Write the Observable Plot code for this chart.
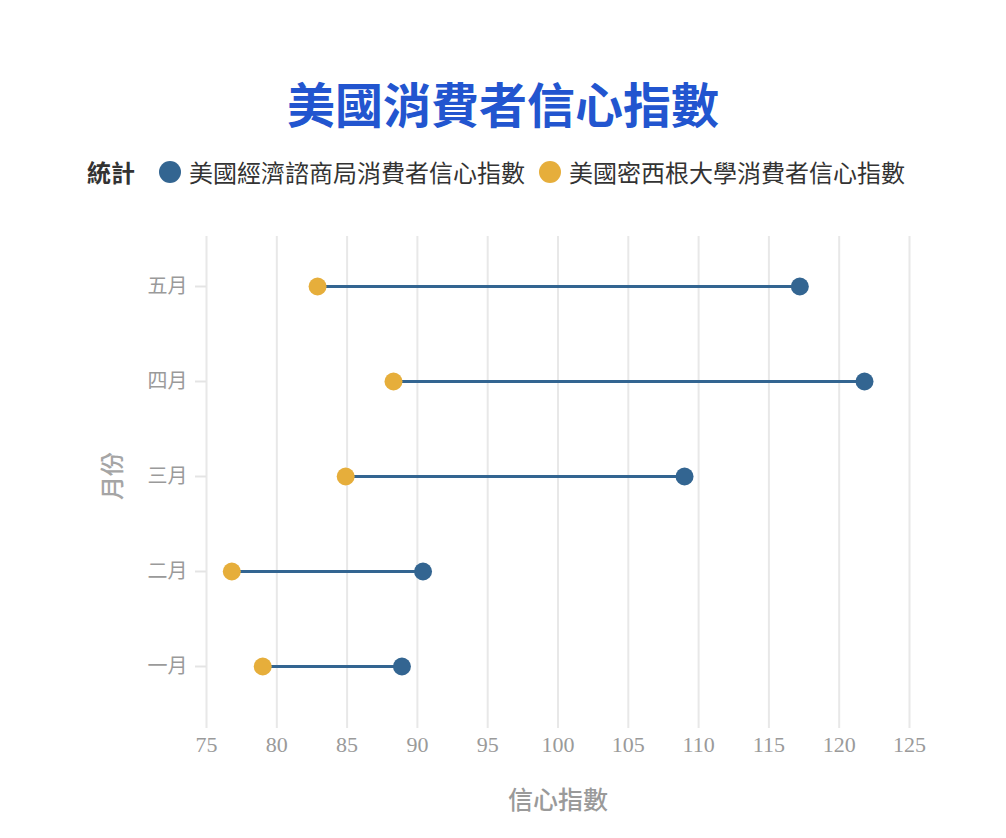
<!DOCTYPE html>
<html>
<head>
<meta charset="utf-8">
<script src="https://cdn.jsdelivr.net/npm/d3@7"></script>
<script src="https://cdn.jsdelivr.net/npm/@observablehq/plot@0.6"></script>
<style>
  html, body { margin: 0; padding: 0; background: #ffffff; }
  body { width: 1006px; height: 838px; position: relative; overflow: hidden; font-family: "Noto Sans CJK TC", "Noto Sans", sans-serif; }
  #title { position: absolute; left: 0; width: 1006px; top: 78px; text-align: center; font-size: 48px; line-height: 48px; font-weight: 700; color: #2255cf; }
  #legend { position: absolute; left: 0; width: 1006px; top: 158px; display: flex; justify-content: center; align-items: center; font-size: 24px; line-height: 28px; color: #333; }
  #legend .head { font-weight: 700; margin-right: 24px; }
  #legend .sw { width: 22px; height: 22px; border-radius: 50%; display: inline-block; margin-right: 8px; }
  #legend .item { display: flex; align-items: center; margin-right: 14px; }
  #chart { position: absolute; left: 0; top: 210px; line-height: 0; }
  #chart svg { display: block; }
</style>
</head>
<body>
<div id="title">美國消費者信心指數</div>
<div id="legend"></div>
<div id="chart"></div>
<script>
const months = ["一月", "二月", "三月", "四月", "五月"];
const conferenceBoard = [88.9, 90.4, 109.0, 121.8, 117.2];
const michigan = [79.0, 76.8, 84.9, 88.3, 82.9];
const xTicks = [75, 80, 85, 90, 95, 100, 105, 110, 115, 120, 125];
const seriesNames = ["美國經濟諮商局消費者信心指數", "美國密西根大學消費者信心指數"];
const seriesColors = ["#336591", "#e6ae3b"];
const legendTitle = "統計";
const xLabel = "信心指數";
const yLabel = "月份";

const data = months.map((m, i) => ({month: m, cb: conferenceBoard[i], mi: michigan[i]}));

// legend
const legend = document.getElementById("legend");
const head = document.createElement("span");
head.className = "head";
head.textContent = legendTitle;
legend.appendChild(head);
seriesNames.forEach((name, i) => {
  const item = document.createElement("span");
  item.className = "item";
  const sw = document.createElement("span");
  sw.className = "sw";
  sw.style.background = seriesColors[i];
  const t = document.createElement("span");
  t.textContent = name;
  item.appendChild(sw);
  item.appendChild(t);
  legend.appendChild(item);
});

const cjk = "'Noto Sans CJK TC', sans-serif";
const chart = Plot.plot({
  width: 1006,
  height: 628,
  marginTop: 26,
  marginBottom: 123,
  marginLeft: 206,
  marginRight: 97,
  style: {background: "transparent", fontFamily: cjk, color: "#9a9a9a"},
  x: {domain: [75, 125]},
  y: {type: "point", domain: [...months].reverse(), padding: 0.5},
  marks: [
    Plot.gridX(xTicks, {stroke: "#e8e8e8", strokeOpacity: 1, strokeWidth: 2, insetBottom: -13}),
    Plot.axisX(xTicks, {tickSize: 0, tickPadding: 21, fontSize: 22, fontFamily: "'Liberation Serif', serif", fill: "#9a9a9a", label: null}),
    Plot.axisY({tickSize: 11, tickPadding: 8, fontSize: 20, fontFamily: cjk, stroke: "#e4e4e4", strokeWidth: 2, fill: "#9a9a9a", label: null}),
    Plot.ruleY(data, {y: "month", x1: "mi", x2: "cb", stroke: seriesColors[0], strokeWidth: 3}),
    Plot.dot(data, {x: "mi", y: "month", r: 9, fill: seriesColors[1]}),
    Plot.dot(data, {x: "cb", y: "month", r: 9, fill: seriesColors[0]}),
    Plot.text([xLabel], {frameAnchor: "bottom", dy: 93, fontSize: 25, fontFamily: cjk, fill: "#9a9a9a", fontWeight: 500}),
    Plot.text([yLabel], {frameAnchor: "left", textAnchor: "middle", dx: -93, rotate: -90, fontSize: 24, fontFamily: cjk, fill: "#a5a5a5", fontWeight: 500})
  ]
});
document.getElementById("chart").appendChild(chart);
</script>
</body>
</html>
